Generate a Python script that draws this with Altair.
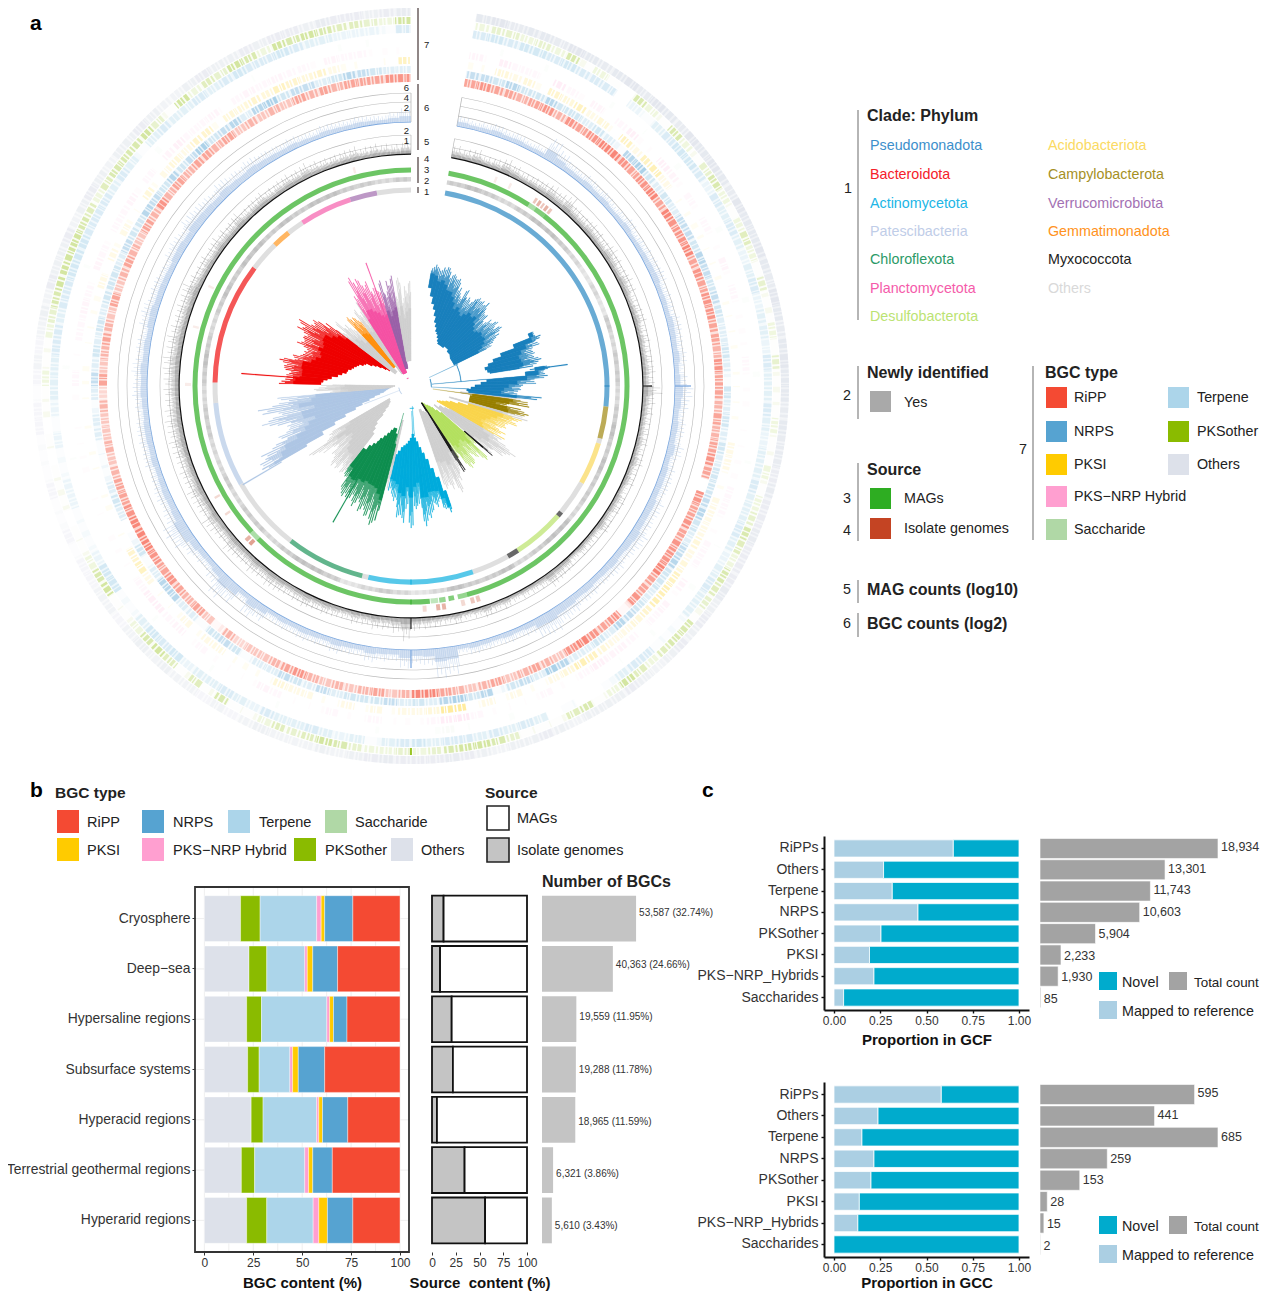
import altair as alt
import pandas as pd
from math import pi

alt.data_transformers.disable_max_rows()
FONT = "Liberation Sans"
BLANK = alt.Data(values=[{"k": 1}])
W, H = 1253, 1283

# ---------- panel a : clade colours ----------
CLADE_TEXT = ["Pseudomonadota", "Bacteroidota", "Actinomycetota", "Patescibacteria", "Chloroflexota",
              "Planctomycetota", "Desulfobacterota", "Acidobacteriota", "Campylobacterota",
              "Verrucomicrobiota", "Gemmatimonadota", "Myxococcota", "Others"]
CLADE_TEXT_COL = ["#3D8FCB", "#F5202A", "#21B6E6", "#BFCDE8", "#2B9A67", "#F55BAA", "#BBE373",
                  "#FBDA62", "#A5901F", "#A371B3", "#FF9220", "#222222", "#D9D9D9"]
TREE_COL = {"Pse": "#1B80BD", "Bac": "#EE0000", "Act": "#00ABDD", "Pat": "#AFC6E4", "Chl": "#118F50",
            "Pla": "#F554A5", "Des": "#B5E060", "Aci": "#F9D44E", "Cam": "#998000", "Ver": "#9B62A8",
            "Gem": "#FF9010", "Myx": "#1A1A1A", "Oth": "#CFCFCF"}

# clade ring: clade, start angle, end angle
CLADE_RING = [("Pse", 10, 96), ("Cam", 96, 105.5), ("Oth", 105.5, 107), ("Aci", 107, 119.6), ("Oth", 119.6, 130),
              ("Myx", 130, 131.5), ("Des", 131.5, 147), ("Myx", 147, 150.4), ("Oth", 150.4, 161.6),
              ("Act", 161.6, 192.6), ("Oth", 192.6, 194.4), ("Chl", 194.4, 217.8), ("Oth", 217.8, 240),
              ("Pat", 240, 265), ("Oth", 265, 271), ("Bac", 271, 307), ("Oth", 307, 316), ("Gem", 316, 321.4),
              ("Oth", 321.4, 326.4), ("Pla", 326.4, 342), ("Ver", 342, 350), ("Oth", 350, 360)]

# tree fans: clade, bin edges (deg), outer radius per bin, inner radius per bin
TREE = [
 ("Oth", [96.5, 98], [110], [50]),
 ("Pse", [10,12,14,16,18,20,22,24,26,28,30,32,34,36,38,40,42,44,46,48,50,52,54,56,58,60,62,64],
  [122,124,120,126,124,120,122,118,112,105,112,108,104,110,116,112,116,108,104,100,104,108,106,108,104,98,90],
  [100,92,85,80,74,68,64,60,58,55,52,50,50,50,50,52,52,52,50,50,50,49,48,48,48,48,48]),
 ("Pse", [66,68,70,72,74,76,78,80,81], [134,139,135,130,128,132,133,125], [128,110,95,86,80,76,78,80]),
 ("Pse", [81.5,83,85,87,89,91,93,95,96.5], [140,135,137,125,115,110,108,131], [125,115,76,70,64,60,56,58]),
 ("Cam", [97.5,99,100.5,102,103.5,105.5], [124,120,100,118,121], [62,60,60,60,60]),
 ("Oth", [105.5,107], [124], [40]),
 ("Aci", [107,109,111,113,115,117,119,120.5], [116,113,108,104,100,106,110], [60,50,42,38,35,32,30]),
 ("Oth", [120.5,122,124,126,128,130], [105,120,126,115,107], [45,40,35,35,30]),
 ("Myx", [130,130.8], [107], [70]),
 ("Des", [131,133,135,137,139,141,143,145,146.5], [90,106,100,96,100,105,100,88], [40,35,30,27,25,24,22,20]),
 ("Myx", [146.5,147.5,149], [100,106], [20,20]),
 ("Oth", [149,151,153,155,157,159,161.5], [100,112,118,110,112,109], [30,30,28,28,25,25]),
 ("Act", [161.5,163,165,167,169,171,173,175,177,179,181,183,185,187,189,191,192.6],
  [135,128,120,124,128,138,141,120,128,142,125,137,132,118,112,108],
  [110,95,85,75,68,62,56,52,48,52,55,58,60,62,66,70]),
 ("Oth", [192.6,194.4], [105], [35]),
 ("Chl", [194.4,196,198,200,202,204,206,208,210,211,213,215,217.8],
  [148,145,140,138,136,132,134,130,133,132,128,112],
  [60,50,45,45,48,52,56,60,64,68,72,78]),
 ("Oth", [217.8,220,222,224,226,228,230,232,234,236,238,240],
  [112,108,112,115,110,104,100,110,123,105,95], [60,55,50,40,35,30,28,26,26,25,25]),
 ("Pat", [240,241,243,245,247,249,251,253,255,257,259,261,263,265],
  [176,170,168,152,142,138,130,150,154,135,159,140,134],
  [120,100,85,72,60,52,44,38,32,28,26,24,22]),
 ("Oth", [265,267,269,271], [85,97,92], [20,18,16]),
 ("Bac", [271,272.5,274,275,277,279,281,283,285,287,289,291,293,295,297,299,301,303,305,307],
  [132,130,126,125,128,132,134,122,118,112,116,122,118,122,128,130,122,118,108],
  [90,88,84,80,74,70,66,65,62,60,58,56,52,50,44,40,35,30,26]),
 ("Oth", [307,309,311,313,316], [90,99,92,84], [20,20,20,20]),
 ("Gem", [316,318,320,322], [94,92,88], [25,25,25]),
 ("Oth", [322,324,326,327], [95,92,100], [15,15,15]),
 ("Pla", [327,329,331,333,335,337,339,340,341,342], [112,125,124,118,114,108,104,106,108], [14,14,14,14,14,14,14,14,14]),
 ("Ver", [342,344,346,348,350], [110,100,108,112], [18,18,18,18]),
 ("Oth", [350,352,354,356,358,360], [95,109,90,100,105], [25,25,25,25,25]),
]
# single long branches: clade, angle, r0, r1
SPIKES = [("Bac",274.2,88,170),("Pat",239.6,150,195),("Chl",209.8,60,157),("Pse",82.2,120,158),("Pla",339.9,14,131)]
# thin stems: clade, angle0, angle1, r0, r1
STEMS = [("Pse",64.8,65.1,20,52),("Pse",84.8,85.1,21,76),("Pse",70,92,20,20.6),("Pse",92.8,93.1,20,58),
         ("Pse",65,85,50,50.6),("Cam",97.7,98,22,62),("Act",176,176.4,20,50),("Act",178,178.4,25,60),
         ("Act",173,183,22,22.6),("Pat",230,262,12,12.6),("Pat",248.8,249.1,12,50),("Chl",195,195.4,28,62),
         ("Pla",330,342,8,8.6)]

RING_NEW = [4,5,4,3,4,5,5,4,3,2,3,2,4,3,4,4,3,4,5,4,5,4,4,3,5,5,4,3,5,4,4,5,3,2,3,4,3,2,4,5,
            5,4,3,4,4,3,4,3,3,4,4,3,4,5,4,3,4,5,4,5,5,4,5,4,5,5,4,4,3,4]
RING_MAGS = [(10,33,7),(33,35,4),(35,38,6),(38,165,7),(165,167.5,5),(168.5,170,6),(170.8,172.5,5),
             (172.8,174.8,3),(175,225,7),(225,227.5,4),(227.5,360,7)]
RING_ISO = [(33.5,34.2,3),(34.6,35.4,4),(35.8,36.4,3),(36.8,37.6,4),(38,38.8,3),(162,163,3),(163.5,164.5,3),
            (166,167,2),(171,172,4),(172.5,173.5,4),(176,177,2),(225,226,5),(226.4,227.4,4),
            (22,22.6,1),(26,26.6,1),(270,270.8,1),(285,285.6,1),(296,296.6,1),(235,235.6,2),(240,240.6,2),(345,345.6,1)]
MAG_HAIR = [10,9,11,8, 9,12,10,8, 9,10,12,11, 14,10,9,11, 10,9,12,10, 9,11,10,8, 9,10,8,9, 8,9,10,9,
            15,10,9,8, 8,9,8,10, 8,9,7,9, 9,8,10,7, 7,8,6,9, 10,12,8,7, 7,6,8,7, 9,7,6,8, 7,8,9,10,
            18,12,10,11, 9,10,8,9, 10,9,11,10, 9,11,12,10, 12,10,11,13, 10,12,14,11, 12,13,11,12,
            11,12,13,12, 13,12,11,12, 12,13,14,12, 13,12,11,12, 12,14,11,10, 11,10,12,11, 10,12,9,10,
            11,9,10,11, 10,12,10,9, 9,10,11,9, 10,9,8,10]
BGC_HAIR = [9,7,8,10, 8,9,7,8, 20,14,10,9, 11,9,10,8, 9,11,8,9, 10,11,12,9, 10,9,12,11, 10,12,9,11,
            16,13,10,12, 11,14,10,12, 12,11,14,13, 13,16,14,12, 14,12,11,13, 12,15,16,20, 18,11,9,10,
            8,9,10,7, 24,26,14,12, 16,10,11,13, 9,10,12,9, 10,11,9,10, 8,14,17,9, 18,22,14,10,
            11,14,19,21, 14,12,13,11, 10,12,11,12, 12,10,11,13, 12,14,11,12, 10,13,14,11, 12,11,10,13,
            14,12,16,15, 14,12,15,13, 12,14,12,11, 10,11,9,8, 10,9,8,9, 8,7,9,12]
# BGC type heat rings, one value per 2.5 degree sector starting at 10 degrees
H_RIPP = [5,6,5,5, 4,5,6,4, 6,5,6,7, 7,6,5,6, 7,5,7,6, 6,7,5,6, 5,6,6,5, 5,4,6,5, 5,4,5,4, 5,6,5,0,
          6,5,6,5, 6,6,7,5, 5,6,1,6, 5,6,7,6, 3,4,5,4, 3,5,4,3, 4,5,7,7, 4,3,5,4, 3,4,3,4, 6,5,4,3,
          3,2,4,1, 3,5,4,5, 6,5,6,7, 7,7,6,5, 5,4,3,4, 3,3,4,2, 5,3,4,5, 4,3,5,3, 4,5,4,3, 5,4,6,4,
          5,4,5,5, 4,5,3,4, 3,4,3,5, 4,5,4,5, 5,5,6,6]
H_NRPS = [4,4,3,5, 3,3,5,3, 3,2,3,2, 1,5,6,3, 2,3,2,4, 4,3,5,4, 3,4,3,2, 2,3,2,1, 3,2,3,2, 3,2,3,3,
          4,5,3,2, 4,5,3,3, 2,3,4,5, 2,3,2,2, 5,6,2,4, 3,1,5,3, 6,5,2,3, 2,4,3,3, 3,2,4,2, 3,4,2,2,
          1,3,4,3, 1,2,2,5, 5,2,1,3, 1,0,2,3, 2,1,1,1, 2,2,1,2, 4,2,3,2, 3,2,3,3, 3,2,4,3, 3,5,4,3,
          5,3,4,6, 3,4,5,2, 5,6,3,4, 4,2,3,5, 4,3,2,2]
H_PKSI = [1,1,3,2, 3,1,4,3, 5,2,3,1, 5,2,5,6, 2,1,1,1, 1,1,1,1, 1,0,1,1, 1,1,0,1, 1,1,1,0, 2,2,1,1,
          2,2,2,3, 2,3,5,6, 6,4,3,2, 2,3,5,6, 3,2,1,1, 2,1,2,1, 8,8,3,2, 2,1,2,1, 2,1,1,2, 2,3,1,1,
          1,1,2,2, 1,2,1,1, 1,2,5,4, 1,1,0,1, 1,0,1,1, 0,1,0,1, 1,1,0,1, 1,1,1,2, 1,2,1,2, 1,1,3,1,
          2,3,2,4, 4,1,3,3, 4,3,5,4, 3,4,2,1, 1,0,1,5]
H_HYB = [3,1,4,2, 2,1,5,2, 1,3,1,2, 4,1,1,4, 3,1,2,1, 2,1,1,3, 1,2,1,1, 1,1,2,1, 1,1,0,1, 1,1,1,2,
         2,1,1,2, 2,1,3,1, 3,2,1,2, 3,3,4,2, 1,1,2,1, 1,1,1,2, 6,5,2,1, 1,1,2,1, 1,2,1,1, 1,2,3,1,
         1,1,1,2, 1,3,2,4, 4,2,1,1, 1,1,0,1, 1,0,1,1, 1,1,0,1, 2,1,1,2, 2,3,2,1, 3,2,1,2, 2,3,1,2,
         1,3,4,2, 2,3,1,2, 3,2,3,2, 2,1,3,2, 2,1,1,1]
H_SAC = [0,0,1,0, 0,1,0,0, 0,0,1,0, 0,1,0,0, 1,0,0,0, 0,1,0,0, 0,0,1,0, 0,0,0,1, 0,0,0,0, 0,1,0,0,
         0,0,0,1, 0,0,1,0, 0,0,1,0, 0,1,0,0, 0,0,0,0, 0,1,0,0, 1,2,1,0, 0,0,1,0, 0,0,0,0, 0,1,0,0,
         0,0,1,0, 0,0,0,1, 0,0,0,0, 0,0,0,0, 0,0,0,1, 0,0,0,0, 0,1,0,0, 0,0,0,0, 1,0,0,0, 0,0,0,0,
         0,1,0,0, 0,0,0,0, 0,1,0,0, 0,0,0,1, 0,1,0,0]
H_TER = [4,5,4,5, 5,4,5,4, 4,4,0,2, 1,3,4,5, 5,4,2,4, 3,4,3,2, 3,4,2,3, 3,2,4,3, 3,4,3,2, 3,3,4,3,
         3,4,3,2, 3,4,3,3, 1,1,1,4, 4,3,1,0, 0,1,0,3, 4,3,4,3, 4,4,3,5, 4,3,1,3, 2,3,4,3, 3,4,2,3,
         4,3,3,2, 5,4,5,3, 1,1,5,5, 2,1,1,1, 2,2,1,1, 2,1,2,3, 3,3,4,4, 3,4,4,5, 5,5,4,4, 4,3,4,3,
         1,3,4,3, 3,4,3,4, 5,4,4,5, 4,3,3,2, 2,2,1,4]
H_PKO = [2,3,3,2, 3,2,5,1, 2,1,0,5, 2,1,5,2, 1,3,5,2, 1,2,4,2, 1,3,1,1, 2,1,3,1, 1,1,2,1, 1,2,1,2,
         3,5,4,2, 5,4,3,1, 5,5,4,2, 4,6,2,1, 5,4,1,1, 1,3,5,6, 6,5,3,2, 3,2,2,3, 5,6,4,3, 4,2,1,1,
         5,1,4,1, 4,6,5,2, 1,1,6,5, 2,1,1,0, 1,1,1,0, 1,0,1,1, 2,1,1,2, 3,5,6,6, 6,6,5,4, 2,4,5,5,
         5,6,3,1, 6,2,4,3, 6,5,2,6, 5,6,5,4, 4,3,2,6]
H_OTH = [7,8,6,7, 7,6,8,7, 6,7,8,6, 8,7,6,8, 7,8,7,6, 8,7,7,8, 7,6,8,7, 6,7,8,7, 7,6,7,6, 6,5,6,5,
         5,6,5,5, 5,6,4,5, 4,5,4,3, 4,5,4,4, 4,3,4,5, 4,4,3,4, 5,6,5,5, 5,6,5,4, 3,4,3,3, 3,4,3,2,
         3,2,3,3, 4,3,4,3, 2,3,3,2, 2,1,2,1, 1,2,1,1, 1,2,2,1, 2,3,2,3, 4,3,5,4, 4,5,3,4, 5,4,3,4,
         4,5,4,3, 3,4,5,4, 4,5,4,5, 5,4,6,5, 5,4,5,6]
BGC_TYPES = ["RiPP", "NRPS", "PKSI", "PKS\u2212NRP Hybrid", "Saccharide", "Terpene", "PKSother", "Others"]
BGC_COLS = ["#F44A33", "#56A3D1", "#FFCB00", "#FF9FD0", "#B0D8A6", "#ACD5EA", "#8ABB00", "#DDE1EA"]
HEAT_GAIN = [0.72, 0.6, 0.42, 0.32, 0.3, 0.72, 0.5, 0.7]
HEAT_BASE = [0.4, 0.35, 0.0, 0.0, 0.0, 0.5, 0.15, 0.75]
# stripe layouts used in turn inside a 2.5 degree sector: (offset, width)
STRIPES = [[(0.0, 0.5), (0.7, 0.3), (1.3, 0.7), (2.2, 0.2)],
           [(0.2, 0.3), (0.8, 0.8), (1.9, 0.4)],
           [(0.1, 0.9), (1.3, 0.2), (1.7, 0.5)],
           [(0.0, 0.2), (0.5, 0.5), (1.2, 0.3), (1.8, 0.6)],
           [(0.3, 0.6), (1.1, 0.6), (2.0, 0.3)]]

tree_rows, ring_rows = [], []
def t_arc(a0, a1, r0, r1, c):
    tree_rows.append(dict(a0=a0, a1=a1, r0=r0, r1=r1, c=c))
def r_arc(a0, a1, r0, r1, c, o):
    if o > 0:
        ring_rows.append(dict(a0=a0, a1=a1, r0=r0, r1=r1, c=c, o=o))

STRAND = [1.0, 0.86, 0.94, 0.78, 0.9, 0.72, 0.97, 0.82]
count = 0
for name, edges, outer, inner in TREE:
    col = TREE_COL[name]
    for i in range(min(len(edges) - 1, len(outer), len(inner))):
        a0, a1, r0, r1 = edges[i], edges[i + 1], inner[i], outer[i]
        t_arc(a0, a1, r0, r0 + (r1 - r0) * 0.66, col)
        n = max(2, int((a1 - a0) / 0.4))
        d = (a1 - a0) / n
        for j in range(n):
            t_arc(a0 + j * d, a0 + j * d + d * 0.7, r0, r0 + (r1 - r0) * STRAND[count % 8], col)
            count += 1
for name, a, r0, r1 in SPIKES:
    t_arc(a - 0.18, a + 0.18, r0, r1, TREE_COL[name])
for name, a0, a1, r0, r1 in STEMS:
    t_arc(a0, a1, r0, r1, TREE_COL[name])

for r in [242, 251, 274, 284, 293]:
    r_arc(10, 360, r - 0.3, r + 0.3, "#9A9A9A", 0.7)
for r0, r1 in [(232, 251), (264, 293)]:
    r_arc(9.92, 10.08, r0, r1, "#9A9A9A", 0.7)
    r_arc(359.92, 360.08, r0, r1, "#9A9A9A", 0.7)
for name, a0, a1 in CLADE_RING:
    r_arc(a0, a1, 193.5, 198.5, TREE_COL[name], 0.66)
for i, v in enumerate(RING_NEW):
    a = 10 + 5 * i
    r_arc(a, a + 5, 204.5, 209, "#A9A9A9", v / 8)
    r_arc(a + 0.8, a + 1.8, 204.5, 209, "#A9A9A9", v / 18)
    r_arc(a + 2.9, a + 3.9, 204.5, 209, "#A9A9A9", v / 18)
for a0, a1, v in RING_MAGS:
    r_arc(a0, a1, 213.5, 218.5, "#2EAD22", v / 10)
for a0, a1, v in RING_ISO:
    r_arc(a0, a1, 220, 226, "#C44423", v / 10)
for i, h in enumerate(MAG_HAIR):
    a = 10 + 2.5 * i
    r_arc(a, a + 2.5, 232, 232 + h * 0.35, "#666666", 0.3)
    r_arc(a, a + 2.5, 232, 232 + h * 0.65, "#888888", 0.16)
    for j, frac in enumerate([0.7, 1.15, 0.55, 0.9, 0.6, 1.3, 0.75, 0.5]):
        r_arc(a + 0.08 + j * 0.3, a + 0.2 + j * 0.3, 232, 232 + h * frac, "#333333", 0.3)
r_arc(10, 360, 231.3, 232.5, "#111111", 1)
for i, h in enumerate(BGC_HAIR):
    a = 10 + 2.5 * i
    r_arc(a, a + 2.5, 264, 264 + h * 0.5, "#A9C4E6", 0.5)
    for j, frac in enumerate([0.85, 1.15, 0.75, 1.0, 0.7, 1.1]):
        r_arc(a + 0.1 + j * 0.4, a + 0.24 + j * 0.4, 264, 264 + h * frac, "#A9C4E6", 0.5)
r_arc(10, 360, 263.5, 264.3, "#7BA7DE", 1)
HEAT = [(H_RIPP, 0, 304, 312), (H_NRPS, 1, 313, 320), (H_PKSI, 2, 322, 329), (H_HYB, 3, 332, 339),
        (H_SAC, 4, 342, 349), (H_TER, 5, 353, 361), (H_PKO, 6, 362, 369), (H_OTH, 7, 370, 378)]
for vals, k, r0, r1 in HEAT:
    g, base = HEAT_GAIN[k], HEAT_BASE[k]
    for i, v in enumerate(vals):
        a = 10 + 2.5 * i
        r_arc(a, a + 2.5, r0, r1, BGC_COLS[k], v / 9 * g * base)
        if v > 0:
            for off, wd in STRIPES[(i * 3 + k) % 5][: (1 if v == 1 else 4)]:
                r_arc(a + off, a + off + wd, r0, r1, BGC_COLS[k], v / 9 * g)
for a, c, r0, r1 in [(90, "#1B80BD", 193.5, 198.5), (180, "#00ABDD", 193.5, 198.5), (180, "#2EAD22", 213.5, 218.5),
                     (180, "#111111", 232, 243), (90, "#111111", 232, 241), (180, "#7BA7DE", 264, 282),
                     (90, "#7BA7DE", 264, 280), (180, "#8ABB00", 362, 369)]:
    r_arc(a - 0.15, a + 0.15, r0, r1, c, 0.85)

tree_df = pd.DataFrame(tree_rows)
ring_df = pd.DataFrame(ring_rows)
TH = alt.Scale(domain=[0, 360], range=[0, 2 * pi])
RS = alt.Scale(type="linear", domain=[0, 403], range=[0, 403])
CX, CY = alt.value(403), alt.value(378)

ring_layer = alt.Chart(ring_df).mark_arc(strokeWidth=0).encode(
    x=CX, y=CY,
    theta=alt.Theta("a0:Q", scale=TH), theta2=alt.Theta2("a1:Q"),
    radius=alt.Radius("r1:Q", scale=RS), radius2=alt.Radius2("r0:Q"),
    color=alt.Color("c:N", scale=None), opacity=alt.Opacity("o:Q", scale=None))
tree_layer = alt.Chart(tree_df).mark_arc(strokeWidth=0.2).encode(
    x=CX, y=CY,
    theta=alt.Theta("a0:Q", scale=TH), theta2=alt.Theta2("a1:Q"),
    radius=alt.Radius("r1:Q", scale=RS), radius2=alt.Radius2("r0:Q"),
    color=alt.Color("c:N", scale=None), stroke=alt.Stroke("c:N", scale=None))

# all helper positions are given in page pixels
def txt(x, y, s, size=14.3, weight="normal", color="#222222", align="left"):
    return alt.Chart(BLANK).mark_text(text=s, fontSize=size, fontWeight=weight, color=color, align=align,
                                      baseline="middle", font=FONT).encode(x=alt.value(x - 8), y=alt.value(y - 7))

def box(x0, y0, x1, y1, fill, stroke=None, sw=1.0):
    kw = dict(fill=fill, strokeWidth=0)
    if stroke:
        kw.update(stroke=stroke, strokeWidth=sw)
    return alt.Chart(BLANK).mark_rect(**kw).encode(x=alt.value(x0 - 8), x2=alt.value(x1 - 8),
                                                    y=alt.value(y0 - 8), y2=alt.value(y1 - 8))

def vline(x, y0, y1, color="#9C9C9C", w=1.5):
    return alt.Chart(BLANK).mark_rule(color=color, strokeWidth=w).encode(x=alt.value(x - 8), y=alt.value(y0 - 8), y2=alt.value(y1 - 8))

layers = [ring_layer, tree_layer, txt(30, 23, "a", 21, "bold", "#000000")]
for y0, y1 in [(8, 80), (84, 150), (157, 183), (187, 193)]:
    layers.append(vline(418, y0, y1, "#6B5F5F", 1.5))
for s, y in [("7", 44), ("6", 107), ("5", 141), ("4", 158), ("3", 169), ("2", 180), ("1", 191)]:
    layers.append(txt(424, y, s, 9.5))
for s, y in [("6", 87), ("4", 97), ("2", 107), ("2", 130), ("1", 140)]:
    layers.append(txt(409, y, s, 9.5, align="right"))

# legend of panel a
layers += [vline(858, 110, 320), txt(844, 188, "1"), txt(867, 115, "Clade: Phylum", 16, "bold")]
for i, (s, c) in enumerate(zip(CLADE_TEXT[:7], CLADE_TEXT_COL[:7])):
    layers.append(txt(870, [145, 174, 203, 231, 259, 288, 316][i], s, color=c))
for i, (s, c) in enumerate(zip(CLADE_TEXT[7:], CLADE_TEXT_COL[7:])):
    layers.append(txt(1048, [145, 174, 203, 231, 259, 288][i], s, color=c))
layers += [vline(858, 366, 419), txt(843, 395, "2"), txt(867, 372, "Newly identified", 16, "bold"),
           box(870, 391, 891, 412, "#A9A9A9"), txt(904, 402, "Yes"),
           vline(858, 463, 541), txt(867, 469, "Source", 16, "bold"), txt(843, 498, "3"), txt(843, 530, "4"),
           box(870, 488, 891, 509, "#2EAD22"), txt(904, 498, "MAGs"),
           box(870, 518, 891, 539, "#C44423"), txt(904, 528, "Isolate genomes"),
           vline(1033, 366, 540), txt(1019, 449, "7"), txt(1045, 372, "BGC type", 16, "bold"),
           vline(858, 580, 603), txt(843, 589, "5"), txt(867, 589, "MAG counts (log10)", 16, "bold"),
           vline(858, 613, 637), txt(843, 623, "6"), txt(867, 623, "BGC counts (log2)", 16, "bold")]
for k, yy in zip([0, 1, 2, 3, 4], [387, 421, 454, 486, 519]):
    layers += [box(1046, yy, 1067, yy + 21, BGC_COLS[k]), txt(1074, yy + 10, BGC_TYPES[k])]
for k, yy in zip([5, 6, 7], [387, 421, 454]):
    layers += [box(1168, yy, 1189, yy + 21, BGC_COLS[k]), txt(1197, yy + 10, BGC_TYPES[k])]

# ---------- panel b ----------
ENV = ["Cryosphere", "Deep\u2212sea", "Hypersaline regions", "Subsurface systems", "Hyperacid regions",
       "Terrestrial geothermal regions", "Hyperarid regions"]
P_OTHERS = [18.5, 22.8, 21.6, 22.1, 23.9, 18.9, 21.6]
P_PKSO = [10.0, 9.1, 7.6, 5.9, 6.1, 6.8, 10.3]
P_TERP = [28.9, 19.4, 33.4, 15.7, 27.4, 25.6, 23.7]
P_HYB = [2.3, 1.3, 1.4, 1.4, 1.1, 2.0, 2.9]
P_PKSI = [1.8, 2.8, 2.0, 2.9, 1.9, 2.1, 4.4]
P_NRPS = [14.4, 12.7, 6.9, 13.5, 12.9, 10.0, 13.0]
P_RIPP = [24.1, 31.9, 27.1, 38.5, 26.7, 34.6, 24.1]
ISOLATE = [12.2, 8.5, 20.7, 22.0, 5.2, 34.3, 55.9]
N_BGC = [53587, 40363, 19559, 19288, 18965, 6321, 5610]
N_LAB = ["53,587 (32.74%)", "40,363 (24.66%)", "19,559 (11.95%)", "19,288 (11.78%)", "18,965 (11.59%)",
         "6,321 (3.86%)", "5,610 (3.43%)"]
stack_order = [("Others", P_OTHERS), ("PKSother", P_PKSO), ("Terpene", P_TERP), ("PKS\u2212NRP Hybrid", P_HYB),
               ("PKSI", P_PKSI), ("NRPS", P_NRPS), ("RiPP", P_RIPP)]
b_df = pd.DataFrame([dict(env=e, t=t, v=vals[i], o=k) for k, (t, vals) in enumerate(stack_order)
                     for i, e in enumerate(ENV)])
BY_R = [887 - 8, 1252 - 8]
env_scale = alt.Scale(domain=ENV, range=BY_R, paddingInner=0.09, paddingOuter=0.173)
bx_scale = alt.Scale(domain=[-4.8, 104.6], range=[195 - 8, 409 - 8], nice=False, zero=False)
AX = dict(labelFont=FONT, titleFont=FONT, labelColor="#333333", titleColor="#111111", titleFontSize=15,
          titleFontWeight="bold", labelFontSize=12, tickColor="#333333", tickSize=3, grid=False, labelOverlap=False, labelFlush=False)
layers.append(alt.Chart(pd.DataFrame(dict(v=[0, 12.5, 25, 37.5, 50, 62.5, 75, 87.5, 100]))).mark_rule(color="#EBEBEB", strokeWidth=0.8).encode(
    x=alt.X("v:Q", scale=bx_scale, axis=None), y=alt.value(BY_R[0]), y2=alt.value(BY_R[1])))
layers.append(alt.Chart(pd.DataFrame(dict(env=ENV))).mark_rule(color="#EBEBEB", strokeWidth=0.8).encode(
    y=alt.Y("env:N", scale=env_scale, axis=None), x=alt.value(187), x2=alt.value(401)))
layers.append(alt.Chart(b_df).mark_bar(stroke="#FFFFFF", strokeWidth=0.4).encode(
    x=alt.X("v:Q", stack="zero", title="BGC content (%)", scale=bx_scale,
            axis=alt.Axis(values=[0, 25, 50, 75, 100], domain=False, orient="bottom", offset=BY_R[1] - H, titlePadding=7, **AX)),
    y=alt.Y("env:N", scale=env_scale, title=None,
            axis=alt.Axis(domain=False, orient="left", offset=-187, labelLimit=220, labelPadding=2, **{**AX, "labelFontSize": 13.9})),
    color=alt.Color("t:N", scale=alt.Scale(domain=BGC_TYPES, range=BGC_COLS), legend=None),
    order=alt.Order("o:Q")))
layers.append(box(195, 887, 409, 1252, "transparent", "#333333", 1.8))

src_df = pd.DataFrame([dict(env=e, s="Isolate genomes", v=ISOLATE[i], o=0) for i, e in enumerate(ENV)] +
                      [dict(env=e, s="MAGs", v=round(100 - ISOLATE[i], 1), o=1) for i, e in enumerate(ENV)])
layers.append(alt.Chart(src_df).mark_bar(stroke="#111111", strokeWidth=1.8).encode(
    x=alt.X("v:Q", stack="zero", title="Source\u00a0 content (%)",
            scale=alt.Scale(domain=[0, 100], range=[432 - 8, 527 - 8], nice=False),
            axis=alt.Axis(values=[0, 25, 50, 75, 100], domain=False, orient="bottom", offset=BY_R[1] - H, titlePadding=7, **AX)),
    y=alt.Y("env:N", scale=env_scale, axis=None),
    fill=alt.Fill("s:N", scale=alt.Scale(domain=["MAGs", "Isolate genomes"], range=["#FFFFFF", "#C4C4C4"]), legend=None),
    order=alt.Order("o:Q")))

num_df = pd.DataFrame(dict(env=ENV, n=N_BGC, lab=N_LAB))
num_x = alt.X("n:Q", scale=alt.Scale(domain=[0, 90000], range=[542 - 8, 700 - 8], nice=False), axis=None)
num_y = alt.Y("env:N", scale=env_scale, axis=None)
layers.append(alt.Chart(num_df).mark_bar(color="#C4C4C4").encode(x=num_x, y=num_y))
layers.append(alt.Chart(num_df).mark_text(align="left", dx=3, fontSize=10, font=FONT, color="#333333").encode(x=num_x, y=num_y, text="lab:N"))

layers += [txt(30, 790, "b", 21, "bold", "#000000"), txt(55, 792, "BGC type", 15.5, "bold"),
           txt(485, 792, "Source", 15.5, "bold"), txt(542, 881, "Number of BGCs", 16, "bold")]
for name, x0, y0, tx in [("RiPP", 57, 810, 87), ("NRPS", 142, 810, 173), ("Terpene", 228, 810, 259), ("Saccharide", 325, 810, 355),
                         ("PKSI", 57, 838, 87), ("PKS\u2212NRP Hybrid", 142, 838, 173), ("PKSother", 294, 838, 325), ("Others", 391, 838, 421)]:
    layers += [box(x0, y0, x0 + 22, y0 + 23, BGC_COLS[BGC_TYPES.index(name)]), txt(tx, y0 + 11.5, name, 14.5)]
layers += [box(487, 806, 509, 830, "#FFFFFF", "#222222", 1.6), txt(517, 818, "MAGs", 14.5),
           box(487, 838, 509, 862, "#C4C4C4", "#222222", 1.6), txt(517, 850, "Isolate genomes", 14.5)]

# ---------- panel c ----------
C_TYPES = ["RiPPs", "Others", "Terpene", "NRPS", "PKSother", "PKSI", "PKS\u2212NRP_Hybrids", "Saccharides"]
GCF_MAPPED = [0.645, 0.268, 0.315, 0.454, 0.254, 0.192, 0.216, 0.052]
GCF_TOTAL = [18934, 13301, 11743, 10603, 5904, 2233, 1930, 85]
GCF_LAB = ["18,934", "13,301", "11,743", "10,603", "5,904", "2,233", "1,930", "85"]
GCC_MAPPED = [0.58, 0.238, 0.151, 0.216, 0.2, 0.137, 0.129, 0.0]
GCC_TOTAL = [595, 441, 685, 259, 153, 28, 15, 2]
GCC_LAB = ["595", "441", "685", "259", "153", "28", "15", "2"]
C_COL = alt.Scale(domain=["Mapped to reference", "Novel"], range=["#ABCFE3", "#00ABCD"])

def c_panel(mapped, total, labels, dmax, title, top, bottom, ly, tpad):
    rng = [top - 8, bottom - 8]
    df = pd.DataFrame([dict(t=t, k="Mapped to reference", v=mapped[i], o=0) for i, t in enumerate(C_TYPES)] +
                      [dict(t=t, k="Novel", v=round(1 - mapped[i], 3), o=1) for i, t in enumerate(C_TYPES)])
    axk = dict(AX)
    axk.update(tickColor="#111111", domainColor="#111111", domainWidth=2, tickSize=3, tickWidth=1.4)
    main = alt.Chart(df).mark_bar(stroke="#FFFFFF", strokeWidth=0.8).encode(
        x=alt.X("v:Q", stack="zero", title=title,
                scale=alt.Scale(domain=[-0.054, 1.054], range=[824 - 8, 1029 - 8], nice=False, zero=False),
                axis=alt.Axis(values=[0, 0.25, 0.5, 0.75, 1], format=".2f", orient="bottom", offset=rng[1] - H, titlePadding=tpad, **axk)),
        y=alt.Y("t:N", title=None, scale=alt.Scale(domain=C_TYPES, range=rng, paddingInner=0.19, paddingOuter=0.18),
                axis=alt.Axis(orient="left", offset=-(824 - 8), labelPadding=3, labelLimit=200, **{**axk, "labelFontSize": 14})),
        color=alt.Color("k:N", scale=C_COL, legend=None), order=alt.Order("o:Q"))
    cdf = pd.DataFrame(dict(t=C_TYPES, n=total, lab=labels))
    xs = alt.X("n:Q", scale=alt.Scale(domain=[0, dmax], range=[1040 - 8, 1258 - 8], nice=False), axis=None)
    ys = alt.Y("t:N", scale=alt.Scale(domain=C_TYPES, range=rng, paddingInner=0.06, paddingOuter=0.115), axis=None)
    out = [main,
           alt.Chart(cdf).mark_bar(color="#A3A3A3", stroke="#FFFFFF", strokeWidth=0.6).encode(x=xs, y=ys),
           alt.Chart(cdf).mark_text(align="left", dx=3, fontSize=12.5, font=FONT, color="#333333").encode(x=xs, y=ys, text="lab:N"),
           box(1099, ly, 1117, ly + 18, "#00ABCD"), txt(1122, ly + 10, "Novel"),
           box(1169, ly, 1187, ly + 18, "#A3A3A3"), txt(1194, ly + 10, "Total count", 13.4),
           box(1099, ly + 29, 1117, ly + 47, "#ABCFE3"), txt(1122, ly + 39, "Mapped to reference")]
    return out

layers += c_panel(GCF_MAPPED, GCF_TOTAL, GCF_LAB, 23189, "Proportion in GCF", 836, 1010, 972, 6)
layers += c_panel(GCC_MAPPED, GCC_TOTAL, GCC_LAB, 839, "Proportion in GCC", 1082, 1257, 1216, 2)
layers.append(txt(702, 790, "c", 21, "bold", "#000000"))

chart = alt.layer(*layers).resolve_scale(x="independent", y="independent", color="independent", fill="independent").resolve_axis(
    x="independent", y="independent").properties(width=W, height=H, padding=0, background="#FFFFFF",
    autosize=alt.AutoSizeParams(type="none")).configure_view(strokeWidth=0)
chart.save("out.html", embed_options={"renderer": "svg", "actions": False})
